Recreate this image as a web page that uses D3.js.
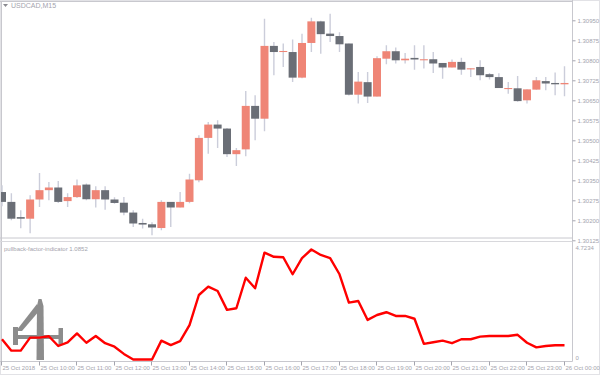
<!DOCTYPE html>
<html><head><meta charset="utf-8">
<script src="https://cdn.jsdelivr.net/npm/d3@7"></script>
<style>html,body{margin:0;padding:0;background:#fff;} svg{display:block;font-family:"Liberation Sans",Arial,sans-serif;}</style>
</head><body><svg id="c" width="600" height="375"></svg>
<script>
const symbolLabel = "USDCAD,M15";
const indicatorLabel = "pullback-factor-indicator 1.0852";

const opens = [1.30306,1.30269,1.30212,1.30206,1.30278,1.30313,1.30323,1.30272,1.30287,1.30334,
1.30279,1.30313,1.30278,1.30266,1.30229,1.30190,1.30185,1.30171,1.30269,1.30248,
1.30269,1.30350,1.30509,1.30559,1.30544,1.30448,1.30466,1.30629,1.30581,1.30854,
1.30831,1.30831,1.30735,1.30865,1.30946,1.30900,1.30891,1.30863,1.30671,1.30718,
1.30664,1.30806,1.30834,1.30800,1.30809,1.30800,1.30804,1.30790,1.30773,1.30794,
1.30766,1.30775,1.30748,1.30737,1.30692,1.30695,1.30650,1.30690,1.30722,1.30715,1.30710];
const highs = [1.30331,1.30301,1.30238,1.30294,1.30377,1.30344,1.30347,1.30301,1.30353,1.30338,
1.30328,1.30328,1.30286,1.30287,1.30238,1.30206,1.30193,1.30275,1.30269,1.30306,
1.30375,1.30519,1.30569,1.30575,1.30546,1.30471,1.30685,1.30669,1.30956,1.30869,
1.30863,1.30878,1.30900,1.30960,1.30948,1.30975,1.30905,1.30863,1.30756,1.30756,
1.30815,1.30856,1.30848,1.30827,1.30856,1.30856,1.30831,1.30790,1.30803,1.30810,
1.30770,1.30800,1.30752,1.30751,1.30719,1.30741,1.30691,1.30737,1.30737,1.30754,1.30778];
const lows = [1.30253,1.30200,1.30170,1.30151,1.30250,1.30275,1.30265,1.30250,1.30284,1.30275,
1.30248,1.30240,1.30262,1.30219,1.30175,1.30169,1.30144,1.30163,1.30175,1.30248,
1.30264,1.30343,1.30450,1.30471,1.30437,1.30404,1.30440,1.30500,1.30534,1.30744,
1.30775,1.30719,1.30733,1.30831,1.30825,1.30869,1.30831,1.30668,1.30638,1.30640,
1.30664,1.30785,1.30788,1.30788,1.30765,1.30769,1.30752,1.30731,1.30773,1.30746,
1.30737,1.30725,1.30728,1.30696,1.30675,1.30645,1.30638,1.30690,1.30688,1.30669,1.30665];
const closes = [1.30269,1.30206,1.30206,1.30278,1.30313,1.30323,1.30269,1.30287,1.30331,1.30279,
1.30313,1.30278,1.30265,1.30229,1.30188,1.30184,1.30173,1.30269,1.30248,1.30269,
1.30353,1.30509,1.30559,1.30544,1.30448,1.30463,1.30629,1.30581,1.30854,1.30831,
1.30835,1.30735,1.30865,1.30946,1.30898,1.30891,1.30860,1.30671,1.30720,1.30664,
1.30808,1.30834,1.30800,1.30806,1.30803,1.30804,1.30788,1.30773,1.30794,1.30765,
1.30770,1.30744,1.30737,1.30696,1.30696,1.30647,1.30691,1.30725,1.30713,1.30710,1.30715];
const pullback = [0.87,0.38,0.38,0.94,0.94,1.00,0.58,0.74,1.12,0.72,
1.01,0.70,0.55,0.24,0,0,0,0.81,0.62,0.79,
1.48,2.77,3.13,2.94,2.13,2.20,3.51,3.06,4.59,4.41,
4.39,3.66,4.35,4.7234,4.49,4.35,3.66,2.44,2.51,1.70,
1.91,2.03,1.87,1.87,1.75,0.67,0.74,0.81,0.70,0.87,
0.87,0.98,1.01,1.01,1.01,1.06,0.72,0.52,0.58,0.61,0.61];

const priceTicks = [1.30950,1.30875,1.30800,1.30725,1.30650,1.30575,1.30500,1.30425,1.30350,1.30275,1.30200,1.30125];
const indicatorTicks = [4.7234, 0];
const timeLabels = ["25 Oct 2018","25 Oct 10:00","25 Oct 11:00","25 Oct 12:00","25 Oct 13:00","25 Oct 14:00","25 Oct 15:00","25 Oct 16:00","25 Oct 17:00","25 Oct 18:00","25 Oct 19:00","25 Oct 20:00","25 Oct 21:00","25 Oct 22:00","25 Oct 23:00","26 Oct 00:00"];
const timeLabelBars = [0,4,8,12,16,20,24,28,32,36,40,44,48,52,56,60];

const svg = d3.select("#c");
const W = 600, H = 375;
const plotRight = 572.5;
const mainTop = 1, mainBottom = 237.5;
const indTop = 241.5, indBottom = 361.5;
const bull = "#EF8576", bear = "#6A6E76", wick = "#CBCDDA";
const axisGrey = "#A4A4AE", frame = "#C8C8CE";

const n = opens.length;
const x = d3.scaleLinear().domain([0, n - 1]).range([2, 564.5]);
const y = d3.scaleLinear().domain([1.30125, 1.30950]).range([240.3, 20.3]);
const yi = d3.scaleLinear().domain([0, 4.7234]).range([359.5, 249.5]);

svg.append("rect").attr("x",0).attr("y",0).attr("width",W).attr("height",H).attr("fill","#fff");

const defs = svg.append("defs");
defs.append("clipPath").attr("id","mainClip").append("rect")
  .attr("x",1).attr("y",mainTop).attr("width",plotRight-1).attr("height",mainBottom-mainTop);
defs.append("clipPath").attr("id","indClip").append("rect")
  .attr("x",1).attr("y",indTop).attr("width",plotRight-1).attr("height",indBottom-indTop);

// frames
svg.append("rect").attr("x",0.5).attr("y",0.5).attr("width",W-1).attr("height",H-1)
  .attr("fill","none").attr("stroke","#E2E2E6");
svg.append("line").attr("x1",0).attr("x2",plotRight).attr("y1",mainTop+0.5).attr("y2",mainTop+0.5).attr("stroke",frame);
svg.append("line").attr("x1",1.5).attr("x2",1.5).attr("y1",mainTop).attr("y2",indBottom).attr("stroke",frame);
svg.append("line").attr("x1",plotRight).attr("x2",plotRight).attr("y1",0).attr("y2",indBottom).attr("stroke",frame);
svg.append("line").attr("x1",0).attr("x2",plotRight).attr("y1",mainBottom+0.5).attr("y2",mainBottom+0.5).attr("stroke",frame);
svg.append("line").attr("x1",0).attr("x2",plotRight).attr("y1",indTop).attr("y2",indTop).attr("stroke","#D8D8DC");
svg.append("line").attr("x1",0).attr("x2",plotRight).attr("y1",indBottom).attr("y2",indBottom).attr("stroke",frame);

// candles
const data = d3.range(n).map(i => ({i, o:opens[i], h:highs[i], l:lows[i], c:closes[i]}));
const cg = svg.append("g").attr("clip-path","url(#mainClip)");
cg.selectAll("line.wick").data(data).join("line").attr("class","wick")
  .attr("x1",d=>x(d.i)).attr("x2",d=>x(d.i))
  .attr("y1",d=>y(d.h)).attr("y2",d=>y(d.l))
  .attr("stroke",wick).attr("stroke-width",1.4);
const bw = 8;
cg.selectAll("rect.body").data(data).join("rect").attr("class","body")
  .attr("x",d=>x(d.i)-bw/2).attr("width",bw)
  .attr("y",d=>y(Math.max(d.o,d.c)))
  .attr("height",d=>Math.max(1,Math.abs(y(d.o)-y(d.c))))
  .attr("fill",d=>d.c>=d.o?bull:bear);

// price axis
const pa = svg.append("g").attr("transform",`translate(${plotRight},0)`)
  .call(d3.axisRight(y).tickValues(priceTicks).tickSize(3).tickPadding(2).tickFormat(d3.format(".5f")));
pa.select(".domain").remove();
pa.selectAll("line").attr("stroke",axisGrey);
pa.selectAll("text").attr("fill",axisGrey).attr("font-size","6px").attr("font-family","'Liberation Sans',Arial,sans-serif");

// indicator axis labels
svg.append("g").selectAll("text").data(indicatorTicks).join("text")
  .attr("x",plotRight+3).attr("y",d=>yi(d)+0.8)
  .attr("fill",axisGrey).attr("font-size","6px").text(d=>d3.format("")(d));

// time axis
const tg = svg.append("g");
tg.selectAll("line").data(timeLabelBars).join("line")
  .attr("x1",d=>Math.round(x(d))-0.5).attr("x2",d=>Math.round(x(d))-0.5)
  .attr("y1",indBottom).attr("y2",indBottom+4).attr("stroke",axisGrey);
tg.selectAll("text").data(timeLabelBars).join("text")
  .attr("x",d=>Math.round(x(d))+0.5).attr("y",369.5)
  .attr("fill",axisGrey).attr("font-size","6px")
  .text((d,k)=>timeLabels[k]);

// watermark logo
const logo = svg.append("g").attr("fill","#808080").attr("opacity",0.9);
logo.append("path").attr("d","M38.5,299 L41.5,299 L43.5,306 L44,360 L36.5,360 L37,306 Z");
logo.append("path").attr("d","M37,304 L40,310 L22,331 L16,331 Z");
logo.append("rect").attr("x",15).attr("y",335).attr("width",48).attr("height",4);
logo.append("rect").attr("x",13).attr("y",327).attr("width",5).attr("height",18);
logo.append("rect").attr("x",58.5).attr("y",328).attr("width",4.5).attr("height",17);

// indicator line
svg.append("g").attr("clip-path","url(#indClip)").append("path")
  .datum(pullback)
  .attr("d", d3.line().x((d,i)=>x(i)).y(d=>yi(d)))
  .attr("fill","none").attr("stroke","#FF0000").attr("stroke-width",2.4).attr("stroke-linejoin","round");

// labels
svg.append("path").attr("d","M3,4 L8,4 L5.5,7 Z").attr("fill","#8A8A90");
svg.append("text").attr("x",11).attr("y",8).attr("fill",axisGrey).attr("font-size","7px").text(symbolLabel);
svg.append("text").attr("x",4).attr("y",251).attr("fill",axisGrey).attr("font-size","6px").text(indicatorLabel);
</script></body></html>
